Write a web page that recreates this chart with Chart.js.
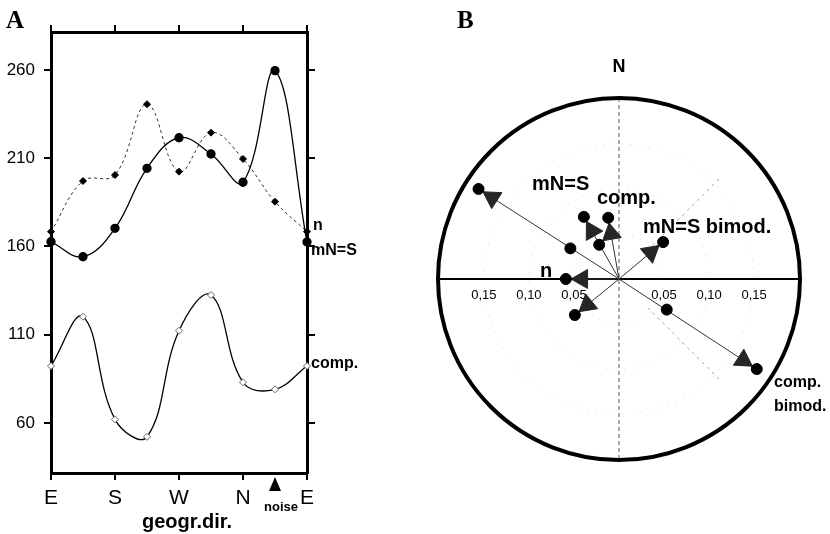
<!DOCTYPE html>
<html><head><meta charset="utf-8">
<script src="https://cdn.jsdelivr.net/npm/chart.js@4/dist/chart.umd.min.js"></script>
<style>
html,body{margin:0;padding:0;background:#fff;width:830px;height:534px;overflow:hidden}
#a{position:absolute;left:0;top:0}
#b{position:absolute;left:430px;top:0}
</style></head><body>
<canvas id="a" width="380" height="534"></canvas>
<canvas id="b" width="400" height="534"></canvas>
<script>
// ---------- Panel A data ----------
const directions = [0,1,2,3,4,5,6,7,8];
const dirTickValues = [0,2,4,6,8];
const dirTickLabels = ['E','S','W','N','E'];
const mNSValues  = [162.7,154.2,170.3,204.3,221.6,212.4,196.4,259.6,162.5];
const nValues    = [168.4,197.1,200.5,240.6,202.4,224.5,209.6,185.4,168.4];
const compValues = [92.3,120.2,62.1,52.2,112.3,132.5,83.1,79.1,92.3];
const yTickValues = [60,110,160,210,260];
const noiseDirection = 7;

// ---------- Panel B data ----------
const vectorTipX = [-0.156, 0.153, -0.039, -0.012, 0.049, -0.059, -0.049];
const vectorTipY = [ 0.100,-0.100,  0.069,  0.068, 0.041,  0.000, -0.040];
const extraPointX = [-0.054, 0.053, -0.022];
const extraPointY = [ 0.034,-0.034,  0.038];
const ringValues = [0.05, 0.10, 0.15];
const ringLabels = ['0,05','0,10','0,15'];

const SANS = "'Liberation Sans', Arial, sans-serif";
const SERIF = "'Liberation Serif', 'Times New Roman', serif";

function pts(xs, ys){ return xs.map((x,i)=>({x:x, y:ys[i]})); }

// ---------- Chart A ----------
const annotA = {
  id:'annotA',
  afterDraw(chart){
    const c = chart.ctx, xs = chart.scales.x, ys = chart.scales.y, ca = chart.chartArea;
    c.save();
    c.fillStyle = '#000';
    c.textBaseline = 'middle';
    c.textAlign = 'left';
    c.font = 'bold 25px ' + SERIF;
    c.fillText('A', 6, 22);
    c.font = 'bold 16px ' + SANS;
    const last = directions.length - 1;
    c.fillText('n', ca.right + 6, ys.getPixelForValue(nValues[last]) - 6);
    c.fillText('mN=S', ca.right + 4, ys.getPixelForValue(mNSValues[last]) + 9);
    c.fillText('comp.', ca.right + 4, ys.getPixelForValue(compValues[last]) - 2);
    // noise marker
    const nx = xs.getPixelForValue(noiseDirection);
    c.beginPath();
    c.moveTo(nx, ca.bottom + 4);
    c.lineTo(nx - 6, ca.bottom + 18);
    c.lineTo(nx + 6, ca.bottom + 18);
    c.closePath();
    c.fill();
    c.font = 'bold 13px ' + SANS;
    c.textAlign = 'center';
    c.fillText('noise', nx + 6, ca.bottom + 34);
    c.font = 'bold 20px ' + SANS;
    c.fillText('geogr.dir.', xs.getPixelForValue(4) + 8, ca.bottom + 49);
    c.restore();
  }
};

const dirTicks = s => { s.ticks = dirTickValues.map(v=>({value:v})); };
const valTicks = s => { s.ticks = yTickValues.map(v=>({value:v})); };

new Chart(document.getElementById('a'), {
  type:'line',
  data:{ datasets:[
    { label:'mN=S', data: pts(directions, mNSValues), borderColor:'#000', borderWidth:1.3,
      tension:0.4, pointStyle:'circle', pointRadius:4, pointBackgroundColor:'#000', pointBorderColor:'#000', clip:false },
    { label:'n', data: pts(directions, nValues), borderColor:'#333', borderWidth:1, borderDash:[3,3],
      tension:0.4, pointStyle:'rectRot', pointRadius:3.5, pointBackgroundColor:'#000', pointBorderColor:'#000', clip:false },
    { label:'comp.', data: pts(directions, compValues), borderColor:'#000', borderWidth:1.3,
      tension:0.4, pointStyle:'rectRot', pointRadius:3.5, pointBackgroundColor:'#fff', pointBorderColor:'#666', pointBorderWidth:1, clip:false }
  ]},
  options:{
    responsive:false, animation:false,
    layout:{padding:0, autoPadding:false},
    plugins:{legend:{display:false}, tooltip:{enabled:false}},
    scales:{
      x:{ type:'linear', position:'bottom', min:0, max:8, afterBuildTicks:dirTicks,
          ticks:{ callback:(v)=>{const i=dirTickValues.indexOf(v); return i>=0?dirTickLabels[i]:'';}, font:{family:SANS,size:21}, color:'#000', padding:6, maxRotation:0, autoSkip:false },
          grid:{ drawOnChartArea:false, tickLength:7, color:'#000', lineWidth:2 },
          border:{ color:'#000', width:3 }, afterFit:s=>{s.height=61;} },
      xTop:{ type:'linear', position:'top', min:0, max:8, afterBuildTicks:dirTicks,
          ticks:{ display:false },
          grid:{ drawOnChartArea:false, tickLength:7, color:'#000', lineWidth:2 },
          border:{ color:'#000', width:3 }, afterFit:s=>{s.height=32;} },
      y:{ type:'linear', position:'left', min:31.7, max:281.5, afterBuildTicks:valTicks,
          ticks:{ font:{family:SANS,size:17}, color:'#000', padding:9 },
          grid:{ drawOnChartArea:false, tickLength:7, color:'#000', lineWidth:2 },
          border:{ color:'#000', width:3 }, afterFit:s=>{s.width=51;} },
      yRight:{ type:'linear', position:'right', min:31.7, max:281.5, afterBuildTicks:valTicks,
          ticks:{ display:false },
          grid:{ drawOnChartArea:false, tickLength:8, color:'#000', lineWidth:2 },
          border:{ color:'#000', width:3 }, afterFit:s=>{s.width=73;} }
    }
  },
  plugins:[annotA]
});

// ---------- Chart B ----------
const R = 0.201;
const polarBg = {
  id:'polarBg',
  beforeDatasetsDraw(chart){
    const c = chart.ctx, xs = chart.scales.x, ys = chart.scales.y;
    const cx = xs.getPixelForValue(0), cy = ys.getPixelForValue(0);
    const px = v => xs.getPixelForValue(v) - cx;
    c.save();
    // faint rings
    c.strokeStyle = '#cfcfcf'; c.lineWidth = 1; c.setLineDash([1,8]);
    ringValues.forEach(v=>{ c.beginPath(); c.arc(cx, cy, px(v), 0, Math.PI*2); c.stroke(); });
    // faint diagonals
    c.setLineDash([3,4]); c.strokeStyle = '#a8a8a8';
    [Math.PI/4, -Math.PI/4].forEach(a=>{
      c.beginPath();
      c.moveTo(cx + px(0.045)*Math.cos(a), cy - px(0.045)*Math.sin(a));
      c.lineTo(cx + px(0.16)*Math.cos(a), cy - px(0.16)*Math.sin(a));
      c.stroke();
    });
    // vertical dashed axis
    c.strokeStyle = '#555'; c.setLineDash([4,3]);
    c.beginPath(); c.moveTo(cx, cy - px(R)); c.lineTo(cx, cy + px(R)); c.stroke();
    c.setLineDash([]);
    // horizontal axis
    c.strokeStyle = '#000'; c.lineWidth = 2;
    c.beginPath(); c.moveTo(cx - px(R), cy); c.lineTo(cx + px(R), cy); c.stroke();
    // outer circle
    c.lineWidth = 4;
    c.beginPath(); c.arc(cx, cy, px(R), 0, Math.PI*2); c.stroke();
    // ring labels
    c.fillStyle = '#000'; c.font = '13px ' + SANS; c.textAlign = 'center'; c.textBaseline = 'middle';
    ringValues.forEach((v,i)=>{
      c.fillText(ringLabels[i], xs.getPixelForValue(-v), cy + 16);
      c.fillText(ringLabels[i], xs.getPixelForValue(v), cy + 16);
    });
    c.restore();
  },
  afterDraw(chart){
    const c = chart.ctx;
    c.save();
    c.fillStyle = '#000'; c.textBaseline = 'middle'; c.textAlign = 'left';
    c.font = 'bold 25px ' + SERIF;
    c.fillText('B', 27, 22);
    c.font = 'bold 18px ' + SANS; c.textAlign = 'center';
    c.fillText('N', 189, 67);
    c.textAlign = 'left';
    c.font = 'bold 20px ' + SANS;
    c.fillText('mN=S', 102, 184);
    c.fillText('comp.', 167, 198);
    c.fillText('mN=S bimod.', 213, 227);
    c.fillText('n', 110, 271);
    c.font = 'bold 16px ' + SANS;
    c.fillText('comp.', 344, 383);
    c.fillText('bimod.', 344, 407);
    c.restore();
  }
};

const arrowBack = 0.018;
const arrowX = vectorTipX.map((x,i)=>{ const L=Math.hypot(x,vectorTipY[i]); return x - arrowBack*x/L; });
const arrowY = vectorTipY.map((y,i)=>{ const L=Math.hypot(vectorTipX[i],y); return y - arrowBack*y/L; });
const arrowRot = vectorTipX.map((x,i)=> 90 - Math.atan2(vectorTipY[i], x)*180/Math.PI);

const lineSets = vectorTipX.map((x,i)=>({
  type:'scatter', data:[{x:0,y:0},{x:x,y:vectorTipY[i]}], showLine:true,
  borderColor:'#333', borderWidth:1, pointRadius:0, order:3
}));

new Chart(document.getElementById('b'), {
  type:'scatter',
  data:{ datasets:[
    { data: pts(vectorTipX, vectorTipY), pointRadius:5.5, pointBackgroundColor:'#000', pointBorderColor:'#000', order:0 },
    { data: pts(extraPointX, extraPointY), pointRadius:5.5, pointBackgroundColor:'#000', pointBorderColor:'#000', order:0 },
    { data: pts(arrowX, arrowY), pointStyle:'triangle', pointRadius:11, pointRotation:arrowRot,
      pointBackgroundColor:'#262626', pointBorderColor:'#262626', pointBorderWidth:1, order:1 },
    ...lineSets
  ]},
  options:{
    responsive:false, animation:false,
    layout:{padding:{left:8, right:30, top:98, bottom:74}, autoPadding:false},
    plugins:{legend:{display:false}, tooltip:{enabled:false}},
    scales:{
      x:{ type:'linear', min:-R, max:R, display:false },
      y:{ type:'linear', min:-R, max:R, display:false }
    }
  },
  plugins:[polarBg]
});
</script>
</body></html>
